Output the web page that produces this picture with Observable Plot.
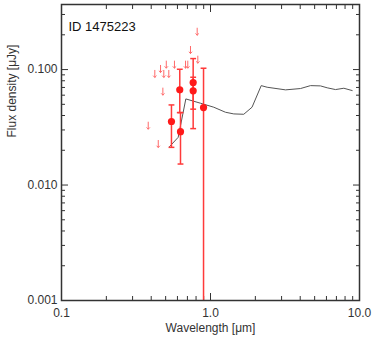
<!DOCTYPE html>
<html><head><meta charset="utf-8">
<script src="https://cdn.jsdelivr.net/npm/d3@7"></script>
<script src="https://cdn.jsdelivr.net/npm/@observablehq/plot@0.6"></script>
<style>
body{margin:0;background:#fff}
#chart svg{font-family:"Liberation Sans",Arial,sans-serif;background:#fff}
</style>
</head><body><div id="chart"></div>
<script>
// Detections (wavelength in µm, flux in µJy) with error bounds
const detWave = [0.547, 0.622, 0.629, 0.765, 0.765, 0.898];
const detFlux = [0.0355, 0.0667, 0.0290, 0.0772, 0.0654, 0.0469];
const detLo   = [0.0212, 0.0424, 0.0152, 0.0454, 0.0308, 0.0001];
const detHi   = [0.0494, 0.1006, 0.0424, 0.1245, 0.0858, 0.1027];
// Upper limits
const limWave = [0.382, 0.423, 0.446, 0.462, 0.479, 0.486, 0.505, 0.525, 0.573, 0.680, 0.704, 0.734, 0.814, 0.822];
const limFlux = [0.0327, 0.0918, 0.0227, 0.1014, 0.0645, 0.0918, 0.1105, 0.0918, 0.1105, 0.1105, 0.1105, 0.148, 0.213, 0.122];
// Model SED
const modelWave = [0.531, 0.607, 0.683, 0.857, 1.052, 1.26, 1.433, 1.672, 1.90, 2.19, 2.40, 3.19, 4.02, 4.69, 5.47, 6.07, 6.90, 7.85, 8.93];
const modelFlux = [0.0215, 0.0259, 0.0557, 0.0511, 0.0472, 0.0427, 0.0413, 0.0410, 0.0472, 0.0726, 0.0703, 0.0667, 0.0685, 0.0726, 0.0722, 0.0695, 0.0671, 0.0689, 0.0658];
// Ticks
const xMajor = [0.1, 1, 10];
const xLabels = ["0.1", "1.0", "10.0"];
const xMinor = [0.2,0.3,0.4,0.5,0.6,0.7,0.8,0.9,2,3,4,5,6,7,8,9];
const yMajor = [0.001, 0.01, 0.1];
const yLabels = ["0.001", "0.010", "0.100"];
const yMinor = [0.002,0.003,0.004,0.005,0.006,0.007,0.008,0.009,0.02,0.03,0.04,0.05,0.06,0.07,0.08,0.09,0.2,0.3];
const title = "ID 1475223";

const det = detWave.map((w,i)=>({w, f:detFlux[i], lo:detLo[i], hi:detHi[i]}));
const lim = limWave.map((w,i)=>({w, f:limFlux[i]}));
const model = modelWave.map((w,i)=>({w, f:modelFlux[i]}));

// horizontal cap symbol for error bars
const capSymbol = {draw(ctx, size) { const h = Math.sqrt(size) / 2; ctx.moveTo(-h, 0); ctx.lineTo(h, 0); }};

const axisColor = "#333";
const errColor = "#ff3a3a";
const plot = Plot.plot({
  width: 374, height: 338,
  marginLeft: 61, marginRight: 15, marginTop: 4, marginBottom: 38,
  style: {fontFamily: "Liberation Sans, Arial, sans-serif", background: "#fff"},
  x: {type: "log", domain: [0.1, 10]},
  y: {type: "log", domain: [0.001, 0.366]},
  marks: [
    // inward ticks
    Plot.axisX(xMajor, {anchor: "bottom", tickSize: -7, tickFormat: () => "", label: null, stroke: axisColor}),
    Plot.axisX(xMajor, {anchor: "top", tickSize: -7, tickFormat: () => "", label: null, stroke: axisColor}),
    Plot.axisX(xMinor, {anchor: "bottom", tickSize: -4, tickFormat: () => "", label: null, stroke: axisColor}),
    Plot.axisX(xMinor, {anchor: "top", tickSize: -4, tickFormat: () => "", label: null, stroke: axisColor}),
    Plot.axisY(yMajor, {anchor: "left", tickSize: -7, tickFormat: () => "", label: null, stroke: axisColor}),
    Plot.axisY(yMajor, {anchor: "right", tickSize: -7, tickFormat: () => "", label: null, stroke: axisColor}),
    Plot.axisY(yMinor, {anchor: "left", tickSize: -4, tickFormat: () => "", label: null, stroke: axisColor}),
    Plot.axisY(yMinor, {anchor: "right", tickSize: -4, tickFormat: () => "", label: null, stroke: axisColor}),
    // tick labels
    Plot.axisX(xMajor, {anchor: "bottom", tickSize: 0, tickPadding: 8, fontSize: 12, fill: axisColor,
      tickFormat: d => xLabels[xMajor.indexOf(d)], label: null}),
    Plot.axisY(yMajor, {anchor: "left", tickSize: 0, tickPadding: 4, fontSize: 12, fill: axisColor,
      tickFormat: d => yLabels[yMajor.indexOf(d)], label: null}),
    Plot.text(["Wavelength [μm]"], {frameAnchor: "bottom", dy: 28, fontSize: 12, fill: axisColor, lineAnchor: "middle"}),
    Plot.text(["Flux density [μJy]"], {frameAnchor: "left", dx: -49, dy: -15, rotate: -90, fontSize: 12, fill: axisColor, lineAnchor: "middle"}),
    Plot.text([title], {frameAnchor: "top-left", dx: 7, dy: 17, fontSize: 13, fill: "#111", textAnchor: "start", lineAnchor: "top"}),
    // model
    Plot.line(model, {x: "w", y: "f", stroke: "#555", strokeWidth: 1}),
    // upper limits
    Plot.vector(lim, {x: "w", y: "f", length: 7, rotate: 180, anchor: "middle", shape: "arrow", stroke: "#ff6a6a", strokeWidth: 1}),
    // error bars
    Plot.link(det, {x1: "w", x2: "w", y1: "lo", y2: "hi", stroke: errColor, strokeWidth: 1.5, clip: true}),
    Plot.dot(det, {x: "w", y: "lo", symbol: capSymbol, r: 3.3, stroke: errColor, strokeWidth: 1.5, fill: "none", clip: true}),
    Plot.dot(det, {x: "w", y: "hi", symbol: capSymbol, r: 3.3, stroke: errColor, strokeWidth: 1.5, fill: "none", clip: true}),
    Plot.dot(det, {x: "w", y: "f", r: 3.6, fill: "#ff1a1a", stroke: "none"}),
    Plot.frame({stroke: "#333", strokeWidth: 1.5})
  ]
});
document.getElementById("chart").appendChild(plot);
</script>
</body></html>
